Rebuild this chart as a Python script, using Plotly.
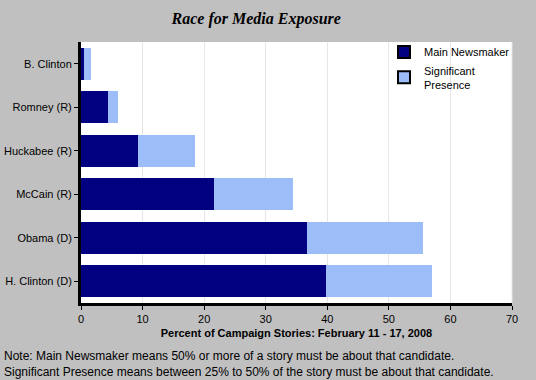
import plotly.graph_objects as go

candidates = ["B. Clinton", "Romney (R)", "Huckabee (R)", "McCain (R)", "Obama (D)", "H. Clinton (D)"]
main_newsmaker = [0.5, 4.4, 9.3, 21.6, 36.7, 39.8]
total_presence = [1.7, 6.0, 18.5, 34.4, 55.5, 57.0]
significant = [round(t - m, 1) for t, m in zip(total_presence, main_newsmaker)]

DARK = "#000080"
LIGHT = "#9DBDF8"
FONT = "Liberation Sans, Arial, sans-serif"

fig = go.Figure()
fig.add_trace(go.Bar(y=candidates, x=main_newsmaker, orientation="h", marker=dict(color=DARK, line=dict(width=0)),
                     name="Main Newsmaker", showlegend=False, width=0.73))
fig.add_trace(go.Bar(y=candidates, x=significant, orientation="h", marker=dict(color=LIGHT, line=dict(width=0)),
                     name="Significant Presence", showlegend=False, width=0.73))
# legend proxies
fig.add_trace(go.Scatter(x=[None], y=[None], mode="markers", name="Main Newsmaker",
                         marker=dict(symbol="square", size=8, color=DARK, line=dict(color="black", width=1))))
fig.add_trace(go.Scatter(x=[None], y=[None], mode="markers", name="Significant<br>Presence",
                         marker=dict(symbol="square", size=8, color=LIGHT, line=dict(color="black", width=1))))

fig.update_layout(
    width=536, height=380,
    barmode="stack",
    paper_bgcolor="#C0C0C0",
    plot_bgcolor="white",
    margin=dict(l=81, r=24, t=42, b=77, autoexpand=False),
    font=dict(family=FONT, size=11, color="black"),
    title=dict(text="<b><i>Race for Media Exposure</i></b>", x=0.478, xanchor="center", y=0.952, yanchor="middle",
               font=dict(family="Liberation Serif, Times New Roman, serif", size=16, color="black")),
    showlegend=True,
    legend=dict(x=(384 - 81) / 431, xanchor="left", y=1.017, yanchor="top", bgcolor="rgba(255,255,255,0)",
                font=dict(family=FONT, size=11), itemsizing="constant", tracegroupgap=0,
                itemwidth=30, traceorder="normal"),
    xaxis=dict(range=[0, 70], dtick=10, showgrid=True, gridcolor="#E6E6E6", gridwidth=1,
               showline=True, linecolor="black", linewidth=3, ticks="outside", ticklen=4, tickcolor="black",
               zeroline=False, mirror=False, automargin=False,
               title=dict(text="<b>Percent of Campaign Stories: February 11 - 17, 2008</b>", standoff=6,
                          font=dict(family=FONT, size=11))),
    yaxis=dict(categoryorder="array", categoryarray=candidates, autorange="reversed",
               showline=True, linecolor="black", linewidth=3, ticks="outside", ticklen=4, tickcolor="black",
               showgrid=False, zeroline=False, automargin=False),
    annotations=[
        dict(text="Note: Main Newsmaker means 50% or more of a story must be about that candidate.<br>"
                  "Significant Presence means between 25% to 50% of the story must be about that candidate.",
             xref="paper", yref="paper", x=-79/431, y=-0.168, xanchor="left", yanchor="top", align="left",
             showarrow=False, font=dict(family=FONT, size=12, color="black")),
    ],
    shapes=[dict(type="line", xref="paper", yref="paper", x0=1, x1=1, y0=0, y1=1,
                 line=dict(color="#E6E6E6", width=1))],
)

fig.write_html("out.html", config={"displayModeBar": False},
               post_script="document.body.style.margin='0';document.body.style.overflow='hidden';")
